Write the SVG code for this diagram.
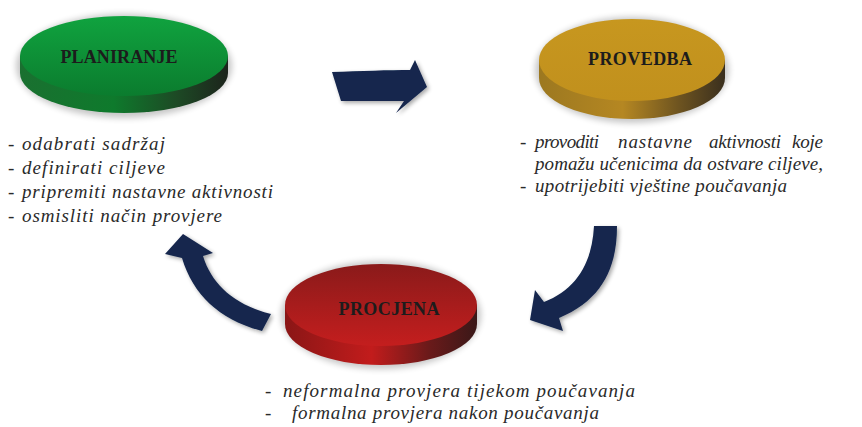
<svg xmlns="http://www.w3.org/2000/svg" width="862" height="427" viewBox="0 0 862 427">
<defs>
<style>
.title{font-family:"Liberation Serif","Times New Roman",serif;font-weight:bold;font-size:18px;fill:#1c1c1c;}
.item{font-family:"Liberation Serif","Times New Roman",serif;font-style:italic;font-size:19px;fill:#2a2a2a;}
.arrow{fill:#14264d;filter:url(#ash);}
</style>
<filter id="blur" x="-20%" y="-30%" width="140%" height="160%"><feGaussianBlur stdDeviation="3"/></filter>
<filter id="ash" x="-20%" y="-20%" width="150%" height="150%"><feGaussianBlur in="SourceAlpha" stdDeviation="2"/><feOffset dx="2" dy="2"/><feComponentTransfer><feFuncA type="linear" slope="0.35"/></feComponentTransfer><feMerge><feMergeNode/><feMergeNode in="SourceGraphic"/></feMerge></filter>
<linearGradient id="gTop" x1="0" y1="0" x2="0" y2="1"><stop offset="0" stop-color="#10a33f"/><stop offset="1" stop-color="#0b7c2e"/></linearGradient>
<linearGradient id="gSide" x1="0" y1="0" x2="1" y2="0"><stop offset="0" stop-color="#1a7030"/><stop offset="0.45" stop-color="#0e7a2c"/><stop offset="0.75" stop-color="#1d4a25"/><stop offset="1" stop-color="#1c241c"/></linearGradient>
<linearGradient id="yTop" x1="0" y1="0" x2="0" y2="1"><stop offset="0" stop-color="#c7971f"/><stop offset="1" stop-color="#c1901d"/></linearGradient>
<linearGradient id="ySide" x1="0" y1="0" x2="1" y2="0"><stop offset="0" stop-color="#9c7820"/><stop offset="0.45" stop-color="#b58722"/><stop offset="0.75" stop-color="#6e5420"/><stop offset="1" stop-color="#3a2f1e"/></linearGradient>
<linearGradient id="rTop" x1="0" y1="0" x2="0" y2="1"><stop offset="0" stop-color="#8a1a1a"/><stop offset="1" stop-color="#c41e1e"/></linearGradient>
<linearGradient id="rSide" x1="0" y1="0" x2="1" y2="0"><stop offset="0" stop-color="#8a1616"/><stop offset="0.45" stop-color="#c21c1c"/><stop offset="0.75" stop-color="#6a1a1a"/><stop offset="1" stop-color="#3a1818"/></linearGradient>
</defs>
<rect width="862" height="427" fill="#ffffff"/>

<g id="planiranje">
<ellipse cx="124" cy="66" rx="108" ry="52" fill="#000" opacity="0.22" filter="url(#blur)"/>
<path d="M20,56 V73 A104,40 0 0 0 228,73 V56 Z" fill="url(#gSide)"/>
<ellipse cx="124" cy="56" rx="104" ry="40" fill="url(#gTop)"/>
<text class="title" x="119" y="63" text-anchor="middle" textLength="117">PLANIRANJE</text>
<text class="item" x="8" y="150">-</text><text class="item" x="22" y="150" textLength="143">odabrati sadržaj</text>
<text class="item" x="8" y="174">-</text><text class="item" x="22" y="174" textLength="143">definirati ciljeve</text>
<text class="item" x="8" y="198">-</text><text class="item" x="22" y="198" textLength="251">pripremiti nastavne aktivnosti</text>
<text class="item" x="8" y="222">-</text><text class="item" x="22" y="222" textLength="200">osmisliti način provjere</text>
</g>

<g id="provedba">
<ellipse cx="632" cy="70" rx="97" ry="53" fill="#000" opacity="0.22" filter="url(#blur)"/>
<path d="M539,60 V78 A93,41 0 0 0 725,78 V60 Z" fill="url(#ySide)"/>
<ellipse cx="632" cy="60" rx="93" ry="41" fill="url(#yTop)"/>
<text class="title" x="640" y="65" text-anchor="middle" textLength="104">PROVEDBA</text>
<text class="item" x="520" y="148">-</text>
<text class="item" x="535" y="148" textLength="64">provoditi</text>
<text class="item" x="618" y="148" textLength="74">nastavne</text>
<text class="item" x="709" y="148" textLength="72">aktivnosti</text>
<text class="item" x="792" y="148" textLength="31">koje</text>
<text class="item" x="535" y="170" textLength="288">pomažu učenicima da ostvare ciljeve,</text>
<text class="item" x="520" y="192">-</text><text class="item" x="535" y="192" textLength="252">upotrijebiti vještine poučavanja</text>
</g>

<g id="procjena">
<ellipse cx="381" cy="315" rx="100" ry="54" fill="#000" opacity="0.22" filter="url(#blur)"/>
<path d="M285,305 V324 A96,41 0 0 0 477,324 V305 Z" fill="url(#rSide)"/>
<ellipse cx="381" cy="305" rx="96" ry="41" fill="url(#rTop)"/>
<text class="title" x="389" y="315" text-anchor="middle" textLength="101">PROCJENA</text>
<text class="item" x="265" y="397">-</text><text class="item" x="283" y="397" textLength="352">neformalna provjera tijekom poučavanja</text>
<text class="item" x="265" y="419">-</text><text class="item" x="292" y="419" textLength="307">formalna provjera nakon poučavanja</text>
</g>

<g id="connectors">
<path class="arrow" d="M332,72 C360,71 390,70 410,70 L415,60 L427,87 L396,113 L404,101 C380,101 360,101 341,101 Z"/>
<path class="arrow" d="M594,226 L617,226 C617,268 602,300 559,318 L563,331 L530,320 L535,290 L544,302 C575,290 592,265 594,226 Z"/>
<path class="arrow" d="M183,234 L213,253 L203,256 C212,285 235,305 271,314 L262,331 C220,320 193,295 182,258 L165,254 Z"/>
</g>
</svg>
